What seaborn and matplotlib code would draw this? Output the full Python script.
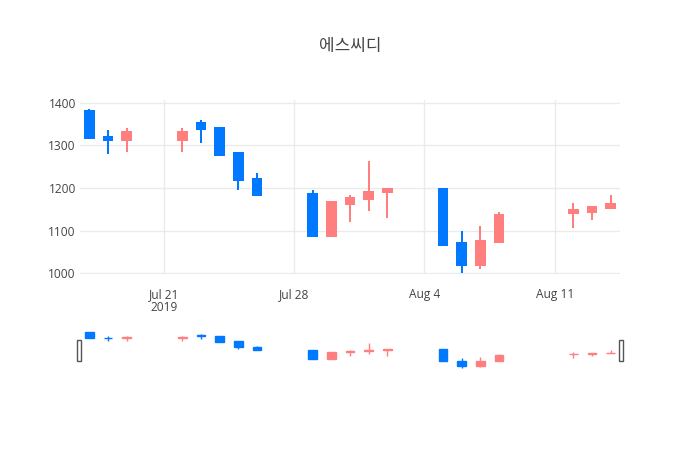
import numpy as np
import pandas as pd
import matplotlib
matplotlib.use('Agg')
import matplotlib.pyplot as plt
import matplotlib.patches as mpatches
import seaborn as sns

# daily prices
dates = ['2019-07-17', '2019-07-18', '2019-07-19', '2019-07-22', '2019-07-23',
         '2019-07-24', '2019-07-25', '2019-07-26', '2019-07-29', '2019-07-30',
         '2019-07-31', '2019-08-01', '2019-08-02', '2019-08-05', '2019-08-06',
         '2019-08-07', '2019-08-08', '2019-08-12', '2019-08-13', '2019-08-14']
open_px = [1381, 1320, 1313, 1313, 1352, 1341, 1281, 1221, 1186, 1088,
           1163, 1174, 1190, 1197, 1071, 1018, 1073, 1142, 1143, 1153]
high_px = [1384, 1336, 1340, 1340, 1359, 1341, 1281, 1234, 1194, 1168,
           1184, 1262, 1197, 1197, 1099, 1110, 1143, 1164, 1158, 1184]
low_px = [1316, 1280, 1285, 1285, 1305, 1278, 1195, 1184, 1088, 1088,
          1120, 1145, 1130, 1067, 1000, 1010, 1073, 1106, 1125, 1153]
close_px = [1318, 1312, 1332, 1332, 1338, 1278, 1219, 1184, 1088, 1167,
            1177, 1191, 1197, 1067, 1018, 1076, 1137, 1148, 1156, 1161]

title = '에스씨디'
xtick_dates = ['2019-07-21', '2019-07-28', '2019-08-04', '2019-08-11']
xtick_labels = ['Jul 21\n2019', 'Jul 28', 'Aug 4', 'Aug 11']
ytick_values = [1000, 1100, 1200, 1300, 1400]

df = pd.DataFrame({'date': pd.to_datetime(dates), 'open': open_px, 'high': high_px,
                   'low': low_px, 'close': close_px})
df['up'] = df['close'] > df['open']
df['bottom'] = df[['open', 'close']].min(axis=1)
df['body'] = (df['close'] - df['open']).abs()

up_color = '#ff7f7f'
down_color = '#0078ff'
colors = [up_color if u else down_color for u in df['up']]

sns.set_theme(style='whitegrid')
plt.rcParams['font.family'] = ['Open Sans', 'Noto Sans CJK KR', 'DejaVu Sans']

W, H = 700, 450
fig = plt.figure(figsize=(7, 4.5), dpi=100)
fig.patch.set_facecolor('white')


def px_axes(left, top, right, bottom):
    return fig.add_axes([left / W, 1 - bottom / H, (right - left) / W, (bottom - top) / H])


def draw_candles(ax, wick_lw, edge_lw):
    ax.vlines(df['date'], df['low'], df['high'], colors=colors, linewidth=wick_lw, zorder=2)
    ax.bar(df['date'], df['body'], bottom=df['bottom'], width=0.47, color=colors,
           edgecolor=colors, linewidth=edge_lw, zorder=3)


xmin = pd.Timestamp('2019-07-16 12:00')
xmax = pd.Timestamp('2019-08-14 12:00')

# main chart
ax = px_axes(80, 100, 620, 274)
ax.set_facecolor('white')
draw_candles(ax, 1.44, 1.44)
ax.set_xlim(xmin, xmax)
ax.set_ylim(998, 1406)
ax.set_xticks(pd.to_datetime(xtick_dates))
ax.set_xticklabels(xtick_labels, linespacing=1.05)
ax.set_yticks(ytick_values)
ax.grid(True, color='#ebebeb', linewidth=1)
for s in ax.spines.values():
    s.set_visible(False)
ax.tick_params(axis='both', length=0, labelsize=8.6, labelcolor='#444444')
ax.tick_params(axis='x', pad=10)
ax.tick_params(axis='y', pad=3)
ax.set_xlabel('')
ax.set_ylabel('')

# range slider
rs = px_axes(80, 330, 620, 371)
rs.set_facecolor('white')
draw_candles(rs, 1.0, 1.0)
rs.set_xlim(xmin, xmax)
rs.set_ylim(965, 1402)
rs.set_xticks([])
rs.set_yticks([])
rs.grid(False)
for s in rs.spines.values():
    s.set_visible(False)

for hx in (79.3, 621):
    fig.patches.append(mpatches.Rectangle(((hx - 2) / W, 1 - 360.5 / H), 4 / W, 20.5 / H,
                                          transform=fig.transFigure, facecolor='white',
                                          edgecolor='#555555', linewidth=1, zorder=5))

fig.text(0.5, 1 - 46 / H, title, ha='center', va='center', fontsize=12.2,
         color='#444444', family=['Noto Sans CJK KR', 'DejaVu Sans'])

fig.savefig('out.png', dpi=100, facecolor='white')
